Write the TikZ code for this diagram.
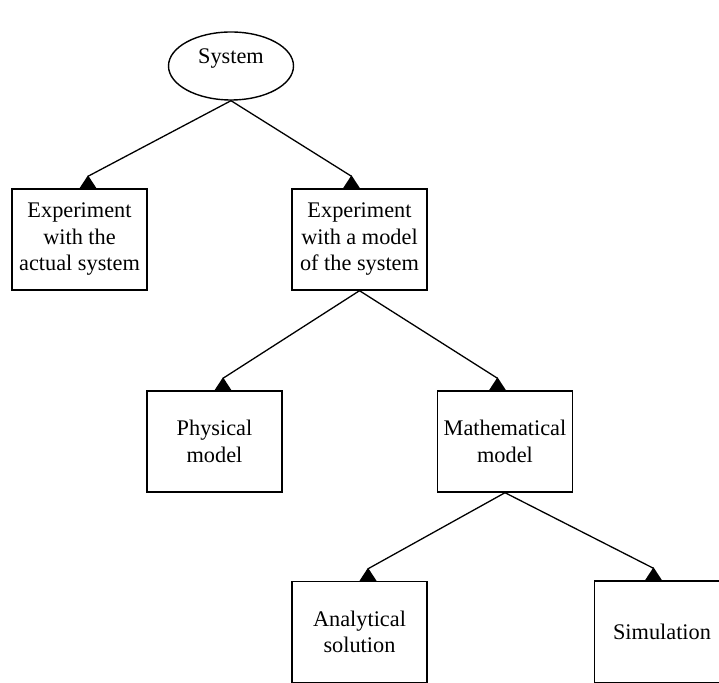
\documentclass[tikz,border=0pt]{standalone}
\usepackage{fontspec}
\setmainfont{Liberation Serif}
\usetikzlibrary{shapes.geometric}
\begin{document}
\begin{tikzpicture}[x=1pt,y=1pt,
  txt/.style={font=\fontsize{22.3}{26.5}\selectfont},
  box/.style={draw, line width=1.4pt, minimum width=135pt, minimum height=101pt,
    inner sep=0pt, align=center, txt},
  oval/.style={draw, ellipse, line width=1.4pt, minimum width=125pt,
    minimum height=68pt, inner sep=0pt},
  link/.style={line width=1.3pt},
  tri/.pic={\fill (-8.5,0) -- (8.5,0) -- (0,13) -- cycle;}]
\useasboundingbox (0,0) rectangle (719,682);

% nodes
\node[oval] (sys) at (231,616) {};
\node[txt, anchor=base, inner sep=0pt] (systxt) at (231,618.7) {System};
\node[box] (exp1) at (79.5,442.5) {Experiment\\with the\\actual system};
\node[box] (exp2) at (359.5,442.5) {Experiment\\with a model\\of the system};
\node[box] (phys) at (214.5,240.5) {Physical\\model};
\node[box] (math) at (505,240.5) {Mathematical\\model};
\node[box] (anal) at (359.5,50) {Analytical\\solution};
\node[box, minimum height=102pt] (sim) at (662,50) {Simulation};

% connector end points (apex of the triangular heads)
\coordinate (c1) at ([xshift=8.5pt]exp1.north);
\coordinate (c2) at ([xshift=-8pt]exp2.north);
\coordinate (c3) at ([xshift=8.5pt]phys.north);
\coordinate (c4) at ([xshift=-7.5pt]math.north);
\coordinate (c5) at ([xshift=8.5pt]anal.north);
\coordinate (c6) at ([xshift=-8.5pt]sim.north);

\draw[link] (sys.south) -- ([yshift=12pt]c1);
\draw[link] (sys.south) -- ([yshift=12pt]c2);
\draw[link] (exp2.south) -- ([yshift=12pt]c3);
\draw[link] (exp2.south) -- ([yshift=12pt]c4);
\draw[link] (math.south) -- ([yshift=12pt]c5);
\draw[link] (math.south) -- ([yshift=12pt]c6);

\pic at (c1) {tri};
\pic at (c2) {tri};
\pic at (c3) {tri};
\pic at (c4) {tri};
\pic at (c5) {tri};
\pic at (c6) {tri};
\end{tikzpicture}
\end{document}
